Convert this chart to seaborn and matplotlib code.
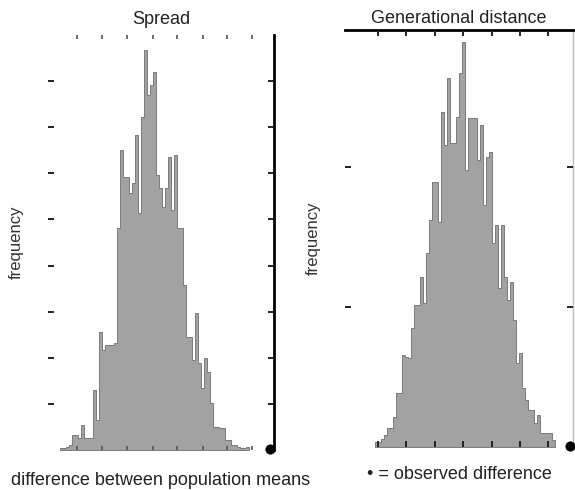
import numpy as np
import pandas as pd
import matplotlib
matplotlib.use("Agg")
import matplotlib.pyplot as plt
import seaborn as sns

# ---------------- data ----------------
# bin index (unit-width bins) and frequency for each panel
spread_counts = [2, 2, 3, 5, 15, 15, 12, 25, 12, 12, 12, 60, 30, 118, 100, 105,
                 105, 105, 107, 222, 300, 273, 273, 257, 267, 315, 237, 333, 400,
                 355, 365, 378, 275, 262, 243, 262, 293, 240, 295, 222, 222, 165,
                 113, 113, 90, 137, 87, 62, 92, 78, 47, 23, 23, 22, 22, 10, 10, 5,
                 5, 3, 2, 2, 3]
spread_bins = list(range(len(spread_counts)))
spread_observed = 69.5

gd_counts = [5, 5, 8, 12, 19, 19, 30, 54, 54, 92, 90, 89, 119, 142, 142, 170,
             144, 194, 227, 265, 265, 225, 335, 302, 369, 304, 304, 330, 374,
             405, 277, 329, 329, 329, 287, 322, 242, 290, 295, 204, 222, 159,
             222, 170, 147, 165, 127, 84, 94, 59, 47, 37, 37, 24, 32, 14, 14,
             14, 14, 7]
gd_bins = list(range(len(gd_counts)))
gd_observed = 64.5

titles = ["Spread", "Generational distance"]
ylabel = "frequency"
xlabels = ["difference between population means", "\u2022 = observed difference"]

# ---------------- figure ----------------
sns.set_theme(style="white")
plt.rcParams["font.family"] = ["Liberation Sans", "DejaVu Sans"]

W, H = 575, 490
fig = plt.figure(figsize=(W / 100, H / 100), dpi=100)


def ax_rect(x0, x1, ytop, ybot):
    return [x0 / W, 1 - ybot / H, (x1 - x0) / W, (ybot - ytop) / H]


ax1 = fig.add_axes(ax_rect(48, 274, 35, 450))
ax2 = fig.add_axes(ax_rect(345, 573, 30, 447))

fill = "#a2a2a2"
edge = "#6e6e6e"

panels = [
    (ax1, spread_bins, spread_counts, spread_observed),
    (ax2, gd_bins, gd_counts, gd_observed),
]
for ax, bins, counts, obs in panels:
    df = pd.DataFrame({"x": bins, "n": counts})
    sns.histplot(data=df, x="x", weights="n", discrete=True, ax=ax,
                 element="step", color=fill, edgecolor=edge, linewidth=0.6,
                 alpha=1.0)
    sns.scatterplot(x=[obs], y=[1.5], ax=ax, color="black", s=45,
                    edgecolor="black", clip_on=False, zorder=5)

# left panel geometry
ax1.set_xlim((48 - 61.5) / 3, (274 - 61.5) / 3)
ax1.set_ylim(0, 415)
ax1.set_yticks(np.linspace(0, 415, 10)[1:-1])
ax1.set_xticks([(px - 61.5) / 3 for px in [77, 102, 127, 153, 177, 203, 227, 252]])
# right panel geometry
ax2.set_xlim((345 - 376.5) / 3, (573 - 376.5) / 3)
ax2.set_ylim(0, 417)
ax2.set_yticks([140, 280])
ax2.set_xticks([(px - 376.5) / 3 for px in [378, 406, 435, 463, 492, 520, 548]])

for ax in (ax1, ax2):
    ax.set_axisbelow(False)
    ax.set_xticklabels([])
    ax.set_yticklabels([])
    ax.tick_params(axis="both", direction="in", length=4, width=1.4,
                   color="#222222", left=True, right=True, top=True,
                   bottom=True)
    ax.tick_params(axis="x", which="both", bottom=True)
    for s in ax.spines.values():
        s.set_visible(False)
    ax.set_ylabel(ylabel, fontsize=12, color="#333333", labelpad=14)
    ax.patch.set_alpha(0)

# faint top ticks on the left panel (no top spine there)
ax1.tick_params(axis="x", which="major", top=True, length=3, width=1.2,
                color="#555555")

ax1.spines["right"].set_visible(True)
ax1.spines["right"].set_color("black")
ax1.spines["right"].set_linewidth(2)

ax2.spines["top"].set_visible(True)
ax2.spines["top"].set_color("black")
ax2.spines["top"].set_linewidth(2)
ax2.spines["right"].set_visible(True)
ax2.spines["right"].set_color("#bbbbbb")
ax2.spines["right"].set_linewidth(1)

ax1.set_title(titles[0], fontsize=13, color="#222222", pad=8)
ax2.set_title(titles[1], fontsize=13, color="#222222", pad=5)
ax1.set_xlabel(xlabels[0], fontsize=13, color="#222222", labelpad=12)
ax2.set_xlabel(xlabels[1], fontsize=13, color="#222222", labelpad=10)

fig.savefig("out.png", dpi=100, facecolor="white")
